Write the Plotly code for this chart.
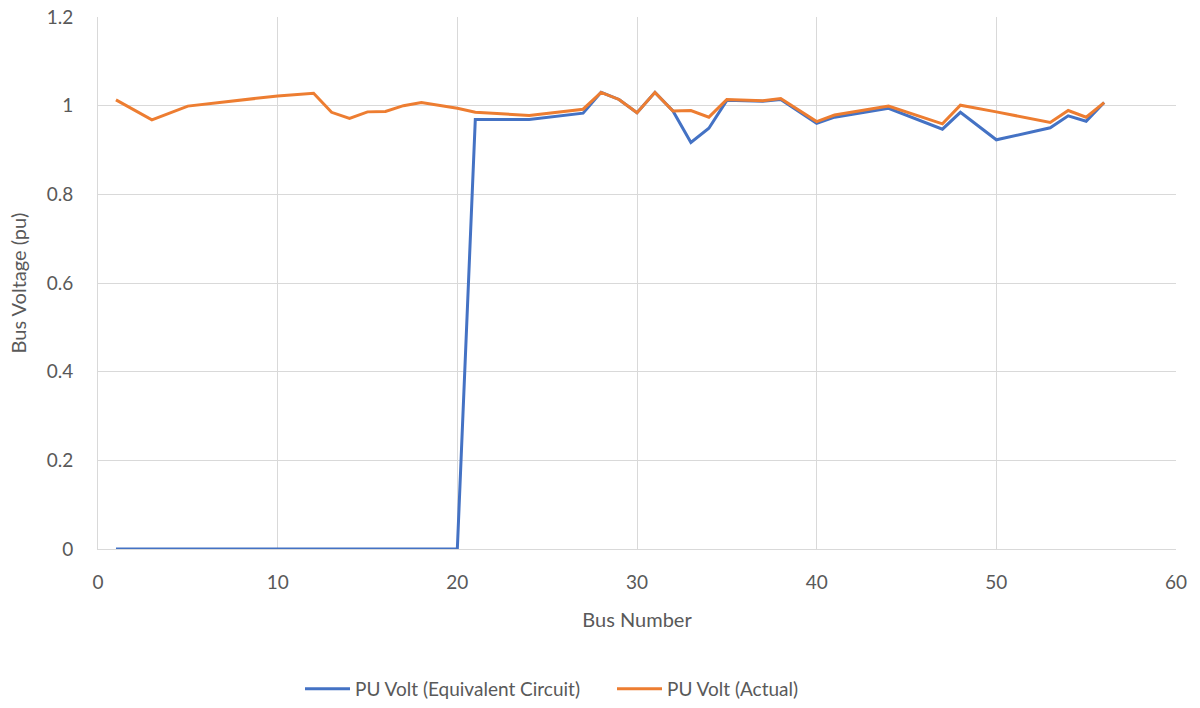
import plotly.graph_objects as go

bus = [1, 3, 5, 10, 12, 13, 14, 15, 16, 17, 18, 20, 21, 24, 27, 28, 29, 30, 31, 32,
       33, 34, 35, 37, 38, 40, 41, 44, 47, 48, 50, 53, 54, 55, 56]
pu_equiv = [0, 0, 0, 0, 0, 0, 0, 0, 0, 0, 0, 0, 0.969, 0.969, 0.983, 1.030, 1.014, 0.984,
            1.030, 0.988, 0.917, 0.949, 1.012, 1.010, 1.014, 0.960, 0.974, 0.994, 0.947,
            0.985, 0.923, 0.950, 0.977, 0.965, 1.007]
pu_actual = [1.013, 0.968, 0.999, 1.022, 1.028, 0.985, 0.971, 0.986, 0.987, 1.000, 1.007,
             0.994, 0.985, 0.978, 0.992, 1.030, 1.014, 0.984, 1.030, 0.988, 0.989, 0.974,
             1.014, 1.011, 1.016, 0.964, 0.979, 0.999, 0.959, 1.001, 0.986, 0.962, 0.989,
             0.974, 1.007]

font = "Lato, 'Open Sans', sans-serif"
grey = "#595959"

fig = go.Figure()
fig.add_trace(go.Scatter(x=bus, y=pu_equiv, mode="lines", name="PU Volt (Equivalent Circuit)",
                         line=dict(color="#4472C4", width=3)))
fig.add_trace(go.Scatter(x=bus, y=pu_actual, mode="lines", name="PU Volt (Actual)",
                         line=dict(color="#ED7D31", width=3)))

fig.update_layout(
    width=1200, height=708,
    margin=dict(l=98, r=24, t=17, b=159),
    paper_bgcolor="white", plot_bgcolor="white",
    font=dict(family=font, color=grey, size=19),
    legend=dict(orientation="h", xref="container", yref="container",
                x=300 / 1200, xanchor="left", y=1 - 689 / 708, yanchor="middle",
                font=dict(size=19, color=grey), itemwidth=45, tracegroupgap=0,
                entrywidth=252),
    xaxis=dict(range=[0, 60], dtick=10, tick0=0, showgrid=True, gridcolor="#d9d9d9",
               gridwidth=1, zeroline=False, showline=True, linecolor="#d9d9d9",
               ticks="", tickfont=dict(size=19, color=grey), automargin=False,
               ticklabelstandoff=16, ticklabeloverflow="allow",
               title=dict(text="Bus Number", font=dict(size=20, color=grey), standoff=21)),
    yaxis=dict(range=[0, 1.2], dtick=0.2, tick0=0, showgrid=True, gridcolor="#d9d9d9",
               gridwidth=1, zeroline=False, showline=True, linecolor="#d9d9d9", ticks="",
               tickfont=dict(size=19, color=grey), tickformat="~g", automargin=False,
               ticklabelstandoff=20, ticklabeloverflow="allow",
               title=dict(text="Bus Voltage (pu)", font=dict(size=20, color=grey), standoff=14)),
)

fig.write_html("out.html", config={"displayModeBar": False},
               post_script="document.body.style.margin='0';")
